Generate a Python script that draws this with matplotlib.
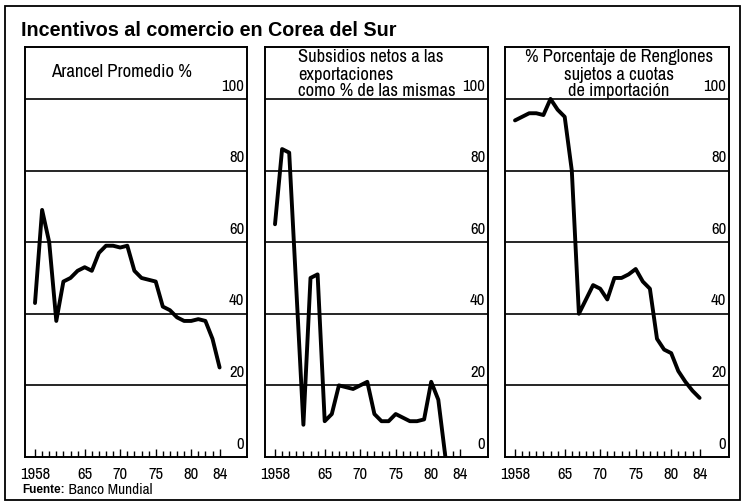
import numpy as np
import matplotlib.pyplot as plt
from matplotlib.patches import Rectangle

plt.rcParams['font.family'] = ['Archivo Narrow', 'Liberation Sans', 'DejaVu Sans']
BOLD = ['Liberation Sans', 'DejaVu Sans']

# Arancel promedio %
years_tariff = list(range(1958, 1985))
tariff = [43, 69, 60, 38, 49, 50, 52, 53, 52, 57, 59, 59, 58.5, 59, 52, 50,
          49.5, 49, 42, 41, 39, 38, 38, 38.5, 38, 33, 25]

# Subsidios netos a las exportaciones
years_subsidy = list(range(1958, 1983))
subsidy = [65, 86, 85, 47, 9, 50, 51, 10, 12, 20, 19.5, 19, 20, 21, 12, 10,
           10, 12, 11, 10, 10, 10.5, 21, 16, 0]

# % de renglones sujetos a cuotas
years_quota = list(range(1958, 1985))
quota = [94, 95, 96, 96, 95.5, 100, 97, 95, 80, 40, 44, 48, 47, 44, 50, 50,
         51, 52.5, 49, 47, 33, 30, 29, 24, 21, 18.5, 16.5]

xtick_years = [1958, 1965, 1970, 1975, 1980, 1984]
xtick_labels = ["1958", "65", "70", "75", "80", "84"]
grid_values = [20, 40, 60, 80, 100]

header_2 = ["Subsidios netos a las", "exportaciones", "como % de las mismas"]
header_3 = ["% Porcentaje de Renglones", "sujetos a cuotas", "de importación"]

W, H = 742, 504
fig = plt.figure(figsize=(W / 100, H / 100), dpi=100)

# outer frame
fig.patches.append(Rectangle((5 / W, 4 / H), 735 / W, 494 / H, transform=fig.transFigure,
                             fill=False, lw=1.3, ec="black"))

fig.text(21 / W, 1 - 30 / H, "Incentivos al comercio en Corea del Sur",
         fontsize=14.2, fontweight="bold", family=BOLD, va="center", ha="left")

panels = [
    (25, 247, years_tariff, tariff),
    (265, 488, years_subsidy, subsidy),
    (505, 729, years_quota, quota),
]
top_px, bottom_px = 47, 457

axes = []
for left, right, xs, ys in panels:
    ax = fig.add_axes([left / W, 1 - bottom_px / H, (right - left) / W, (bottom_px - top_px) / H])
    # 1958 sits ~10 px from the left edge, 7.1 px per year
    x0 = 1958 - 10 / 7.1
    x1 = x0 + (right - left) / 7.1
    ax.set_xlim(x0, x1)
    ax.set_ylim(0, 114.5)
    for g in grid_values:
        ax.axhline(g, color="black", lw=1.2, zorder=1)
    for g in [0] + grid_values:
        ax.text(x1 - 0.4, g + 1.5, str(g), ha="right", va="bottom", fontsize=12)
    ax.plot(xs, ys, color="black", lw=2.8, solid_joinstyle="round",
            solid_capstyle="round", zorder=3)
    ax.set_xticks(xtick_years)
    ax.set_xticklabels(xtick_labels, fontsize=12)
    ax.set_xticks(np.arange(1959, 1985), minor=True)
    ax.tick_params(axis="x", which="major", direction="in", length=6, width=1, pad=7)
    ax.tick_params(axis="x", which="minor", direction="in", length=4, width=1)
    ax.set_yticks([])
    for s in ax.spines.values():
        s.set_linewidth(1.4)
    axes.append(ax)

axes[0].text(1960.2, 107.5, "Arancel Promedio %", ha="left", va="center", fontsize=13.5)
line_y = [111.6, 106.8, 102.1]
for txt, y in zip(header_2, line_y):
    axes[1].text(1961.3, y, txt, ha="left", va="center", fontsize=13.3)
for txt, y in zip(header_3, line_y):
    axes[2].text(1972.6, y, txt, ha="center", va="center", fontsize=13.3)

src = fig.text(22 / W, 1 - 490 / H, "Fuente:", fontsize=8.5, fontweight="bold",
               family=BOLD, va="center")
axes[0].annotate(" Banco Mundial", xy=(1, 0.5), xycoords=src, va="center", ha="left",
                 fontsize=11, annotation_clip=False)

fig.savefig("out.png", dpi=100)
